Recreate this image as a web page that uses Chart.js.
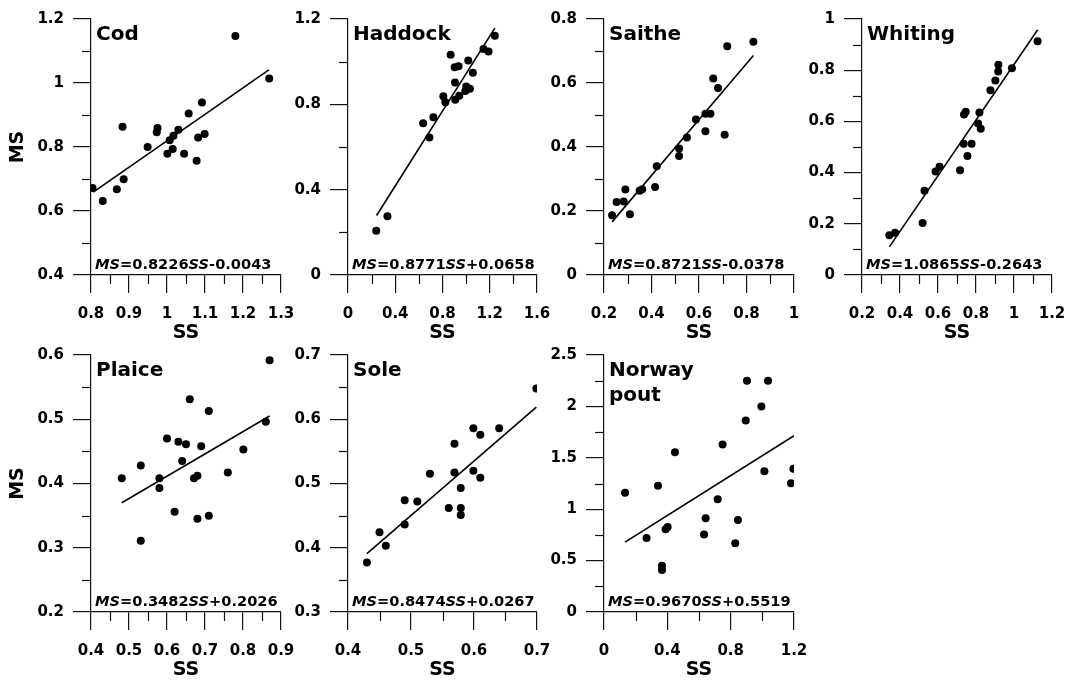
<!DOCTYPE html>
<html>
<head>
<meta charset="utf-8">
<script src="https://cdn.jsdelivr.net/npm/chart.js@4"></script>
<style>
  body { margin: 0; background: #fff; width: 1071px; height: 680px; position: relative; overflow: hidden; }
  .panel { position: absolute; }
</style>
</head>
<body>
<div class="panel" style="left:0px;top:7px"><canvas id="c0" width="299" height="336"></canvas></div>
<div class="panel" style="left:288px;top:7px"><canvas id="c1" width="267" height="336"></canvas></div>
<div class="panel" style="left:544px;top:7px"><canvas id="c2" width="268" height="336"></canvas></div>
<div class="panel" style="left:802px;top:7px"><canvas id="c3" width="268" height="336"></canvas></div>
<div class="panel" style="left:0px;top:343px"><canvas id="c4" width="299" height="337"></canvas></div>
<div class="panel" style="left:288px;top:343px"><canvas id="c5" width="267" height="337"></canvas></div>
<div class="panel" style="left:544px;top:343px"><canvas id="c6" width="268" height="337"></canvas></div>
<script>
'use strict';

// species shown in the panels (left to right, top to bottom)
var species = ['Cod', 'Haddock', 'Saithe', 'Whiting', 'Plaice', 'Sole', 'Norway pout'];

// SS / MS points
var codSS = [0.804, 0.831, 0.868, 0.886, 0.883, 0.949, 0.975, 0.973, 1.001, 1.007, 1.017, 1.015, 1.030, 1.045, 1.057, 1.078, 1.082, 1.092, 1.099, 1.180, 1.269];
var codMS = [0.672, 0.631, 0.668, 0.699, 0.863, 0.800, 0.859, 0.846, 0.779, 0.821, 0.835, 0.794, 0.854, 0.779, 0.905, 0.757, 0.830, 0.939, 0.841, 1.147, 1.014];

var haddockSS = [0.239, 0.334, 0.636, 0.723, 0.689, 0.807, 0.824, 0.869, 0.903, 0.936, 0.906, 0.908, 0.942, 0.993, 1.001, 1.032, 1.018, 1.057, 1.147, 1.190, 1.243];
var haddockMS = [0.207, 0.275, 0.711, 0.739, 0.644, 0.838, 0.810, 1.033, 0.974, 0.979, 0.902, 0.821, 0.840, 0.862, 0.884, 0.873, 1.006, 0.948, 1.059, 1.048, 1.121];

var saitheSS = [0.234, 0.253, 0.283, 0.290, 0.309, 0.350, 0.361, 0.415, 0.422, 0.516, 0.516, 0.549, 0.587, 0.627, 0.627, 0.648, 0.660, 0.680, 0.708, 0.719, 0.829];
var saitheMS = [0.187, 0.228, 0.230, 0.267, 0.190, 0.263, 0.268, 0.275, 0.340, 0.395, 0.372, 0.430, 0.486, 0.449, 0.504, 0.504, 0.614, 0.584, 0.438, 0.715, 0.729];

var whitingSS = [0.344, 0.374, 0.519, 0.529, 0.587, 0.608, 0.716, 0.735, 0.755, 0.777, 0.737, 0.746, 0.811, 0.825, 0.818, 0.876, 0.902, 0.917, 0.918, 0.989, 1.124];
var whitingMS = [0.155, 0.165, 0.203, 0.329, 0.404, 0.423, 0.409, 0.513, 0.465, 0.513, 0.627, 0.638, 0.592, 0.571, 0.635, 0.722, 0.760, 0.795, 0.821, 0.808, 0.913];

var plaiceSS = [0.481, 0.531, 0.531, 0.580, 0.580, 0.600, 0.620, 0.630, 0.640, 0.650, 0.660, 0.671, 0.680, 0.680, 0.690, 0.710, 0.710, 0.760, 0.801, 0.860, 0.870];
var plaiceMS = [0.408, 0.428, 0.311, 0.408, 0.393, 0.470, 0.356, 0.465, 0.435, 0.461, 0.531, 0.408, 0.412, 0.345, 0.458, 0.513, 0.350, 0.417, 0.453, 0.496, 0.592];

var soleSS = [0.430, 0.450, 0.460, 0.490, 0.490, 0.510, 0.530, 0.560, 0.569, 0.569, 0.579, 0.579, 0.579, 0.599, 0.599, 0.610, 0.610, 0.640, 0.699];
var soleMS = [0.377, 0.424, 0.403, 0.474, 0.436, 0.472, 0.515, 0.462, 0.562, 0.517, 0.493, 0.462, 0.451, 0.586, 0.520, 0.576, 0.509, 0.586, 0.648];

var poutSS = [0.133, 0.269, 0.341, 0.366, 0.366, 0.389, 0.402, 0.448, 0.632, 0.642, 0.718, 0.749, 0.829, 0.846, 0.895, 0.903, 0.994, 1.013, 1.036, 1.181, 1.196];
var poutMS = [1.159, 0.721, 1.227, 0.451, 0.409, 0.805, 0.828, 1.555, 0.753, 0.912, 1.097, 1.630, 0.669, 0.896, 1.864, 2.250, 2.000, 1.370, 2.250, 1.253, 1.393];

// regression lines: ends of the drawn segment, and the printed coefficients
var fitSS = [[0.806, 1.268], [0.242, 1.243], [0.234, 0.829], [0.344, 1.124], [0.481, 0.870], [0.430, 0.699], [0.133, 1.200]];
var fitMS = [[0.659, 1.041], [0.279, 1.157], [0.166, 0.686], [0.110, 0.957], [0.370, 0.505], [0.391, 0.619], [0.680, 1.714]];
var slopes = [0.8226, 0.8771, 0.8721, 1.0865, 0.3482, 0.8474, 0.9670];
var intercepts = [-0.0043, 0.0658, -0.0378, -0.2643, 0.2026, 0.0267, 0.5519];

// axis ranges and tick steps
var xMin = [0.8, 0, 0.2, 0.2, 0.4, 0.4, 0];
var xMax = [1.3, 1.6, 1, 1.2, 0.9, 0.7, 1.2];
var xStep = [0.1, 0.4, 0.2, 0.2, 0.1, 0.1, 0.4];
var yMin = [0.4, 0, 0, 0, 0.2, 0.3, 0];
var yMax = [1.2, 1.2, 0.8, 1, 0.6, 0.7, 2.5];
var yStep = [0.2, 0.4, 0.2, 0.2, 0.1, 0.1, 0.5];

var allSS = [codSS, haddockSS, saitheSS, whitingSS, plaiceSS, soleSS, poutSS];
var allMS = [codMS, haddockMS, saitheMS, whitingMS, plaiceMS, soleMS, poutMS];

var FONT = 'DejaVu Sans';
Chart.defaults.font.family = FONT;
Chart.defaults.font.weight = 'bold';
Chart.defaults.color = '#000';

function toPoints(xs, ys) {
    var pts = [];
    for (var i = 0; i < xs.length; i++) {
        pts.push({ x: xs[i], y: ys[i] });
    }
    return pts;
}

// 1 instead of 1.0, 2 instead of 2.0
function shortLabel(value) {
    return String(Number(value.toFixed(3)));
}

// short ticks half way between the labelled ones
var minorTicks = {
    id: 'minorTicks',
    afterDraw: function (chart) {
        var ctx = chart.ctx;
        var area = chart.chartArea;
        ctx.save();
        ctx.strokeStyle = '#111';
        ctx.lineWidth = 1.2;
        ['x', 'y'].forEach(function (id) {
            var scale = chart.scales[id];
            var t = scale.ticks;
            for (var i = 0; i < t.length - 1; i++) {
                var p = Math.round(scale.getPixelForValue((t[i].value + t[i + 1].value) / 2)) + 0.5;
                ctx.beginPath();
                if (id === 'x') {
                    ctx.moveTo(p, area.bottom);
                    ctx.lineTo(p, area.bottom + 9);
                } else {
                    ctx.moveTo(area.left, p);
                    ctx.lineTo(area.left - 9, p);
                }
                ctx.stroke();
            }
        });
        ctx.restore();
    }
};

// species name in the corner and fitted equation along the bottom
var panelText = {
    id: 'panelText',
    afterDraw: function (chart, args, opts) {
        var ctx = chart.ctx;
        var area = chart.chartArea;
        ctx.save();
        ctx.fillStyle = '#000';
        ctx.textBaseline = 'alphabetic';
        ctx.textAlign = 'left';
        ctx.font = 'bold 20px "' + FONT + '"';
        var lines = opts.name.split(' ');
        for (var i = 0; i < lines.length; i++) {
            ctx.fillText(lines[i], area.left + 5, area.top + 21 + i * 25);
        }
        var b = opts.intercept < 0 ? '-' + Math.abs(opts.intercept).toFixed(4) : '+' + opts.intercept.toFixed(4);
        var parts = [
            ['MS', true], ['=' + opts.slope.toFixed(4), false], ['SS', true], [b, false]
        ];
        var x = area.left + 4;
        parts.forEach(function (p) {
            ctx.font = (p[1] ? 'italic ' : '') + 'bold 14.6px "' + FONT + '"';
            ctx.fillText(p[0], x, area.bottom - 6);
            x += ctx.measureText(p[0]).width;
        });
        ctx.restore();
    }
};

function makePanel(k) {
    var firstCol = (k === 0 || k === 4);
    var yWidth = firstCol ? 91 : 60;
    new Chart(document.getElementById('c' + k), {
        type: 'scatter',
        data: {
            datasets: [{
                data: toPoints(allSS[k], allMS[k]),
                backgroundColor: '#000',
                borderWidth: 0,
                pointRadius: 4,
                pointHoverRadius: 4
            }, {
                type: 'line',
                data: toPoints(fitSS[k], fitMS[k]),
                borderColor: '#000',
                borderWidth: 1.6,
                pointRadius: 0,
                fill: false
            }]
        },
        options: {
            responsive: false,
            animation: false,
            events: [],
            layout: { padding: { top: 12, right: 18, left: 0, bottom: 0 } },
            plugins: {
                legend: { display: false },
                tooltip: { enabled: false },
                panelText: { name: species[k], slope: slopes[k], intercept: intercepts[k] }
            },
            scales: {
                x: {
                    type: 'linear',
                    min: xMin[k],
                    max: xMax[k],
                    ticks: { stepSize: xStep[k], padding: 12, font: { size: 15, weight: 'bold' }, color: '#000', maxRotation: 0, autoSkip: false, callback: shortLabel },
                    grid: { drawOnChartArea: false, drawTicks: true, tickLength: 18, color: '#111', lineWidth: 1.2 },
                    border: { display: true, color: '#111', width: 1.2 },
                    title: { display: true, text: 'SS', font: { size: 19, weight: 'bold', lineHeight: 1 }, padding: 0, color: '#000' },
                    afterFit: function (s) {
                        s.height = 68;
                        s.paddingLeft = 0; s.paddingRight = 0;
                    }
                },
                y: {
                    type: 'linear',
                    min: yMin[k],
                    max: yMax[k],
                    ticks: { stepSize: yStep[k], padding: 9, font: { size: 15, weight: 'bold' }, color: '#000', autoSkip: false, callback: shortLabel },
                    grid: { drawOnChartArea: false, drawTicks: true, tickLength: 18, color: '#111', lineWidth: 1.2 },
                    border: { display: true, color: '#111', width: 1.2 },
                    title: { display: firstCol, text: 'MS', font: { size: 19, weight: 'bold', lineHeight: 1 }, padding: { top: 9, bottom: 0 }, color: '#000' },
                    afterFit: function (s) {
                        s.width = yWidth;
                        s.paddingTop = 0; s.paddingBottom = 0;
                    }
                }
            }
        },
        plugins: [minorTicks, panelText]
    });
}

for (var k = 0; k < species.length; k++) {
    makePanel(k);
}
</script>
</body>
</html>
